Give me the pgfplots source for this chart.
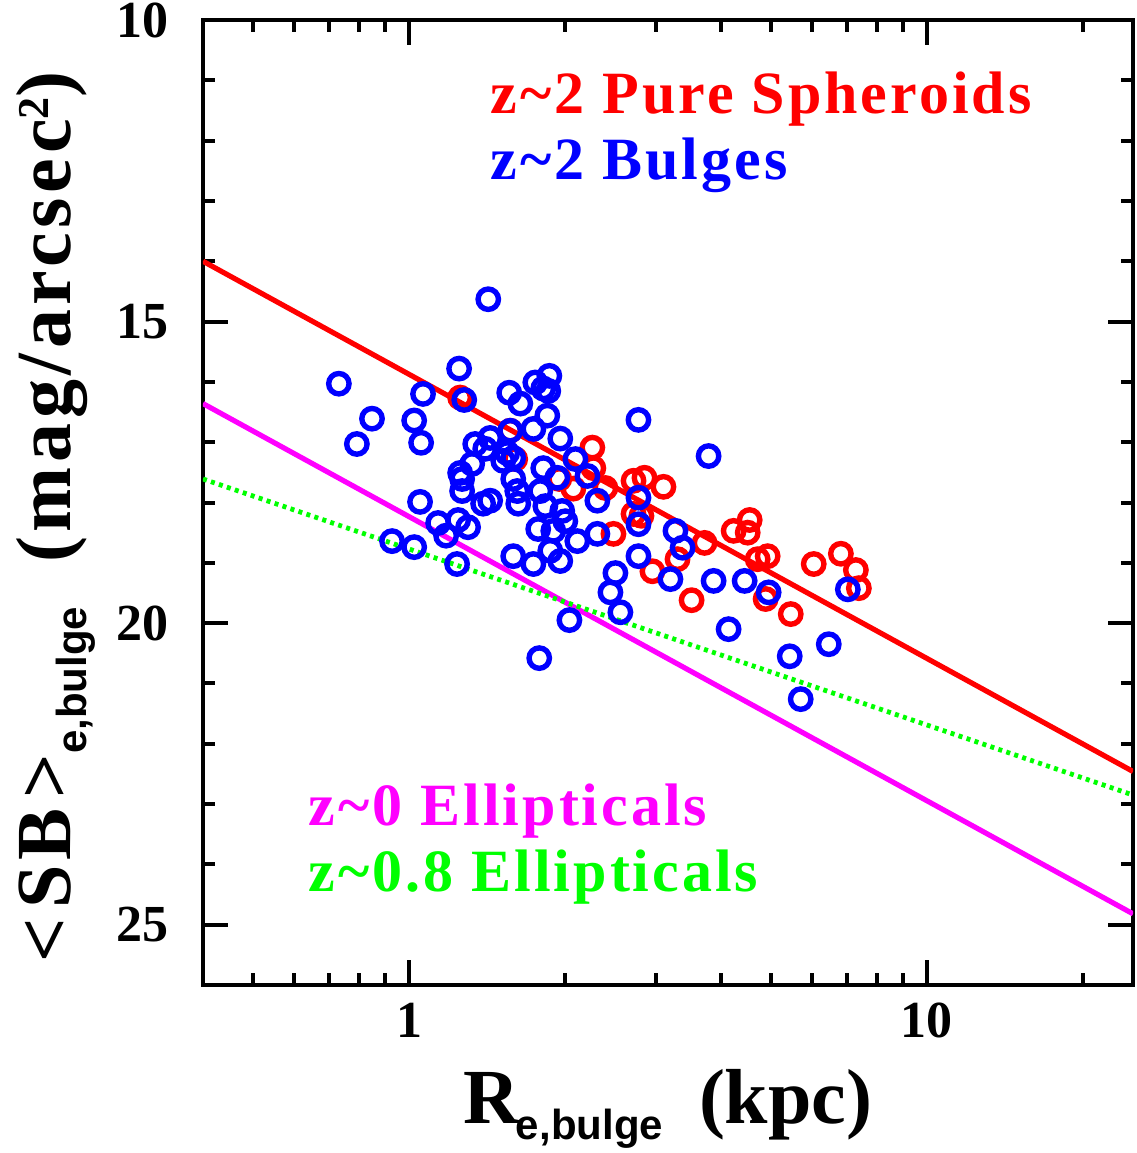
\documentclass[border=0pt]{standalone}
\usepackage{fontspec}
\setmainfont{Liberation Serif}
\setsansfont{Liberation Sans}
\newfontfamily\widefont{Liberation Serif}[LetterSpace=5]
\newfontfamily\labelfont{Liberation Serif}[LetterSpace=6]
\usepackage{pgfplots}
\usepackage{pgfplotstable}
\pgfplotsset{compat=1.18}

\definecolor{sphred}{rgb}{1,0,0}
\definecolor{bulgeblue}{rgb}{0,0,1}
\definecolor{ellmag}{rgb}{1,0,1}
\definecolor{ellgreen}{rgb}{0,1,0}

% effective radius (kpc) and mean surface brightness within R_e (mag/arcsec^2)
\pgfplotstableread{
r sb
1.255 16.26
1.568 16.81
1.603 17.28
1.950 17.61
2.076 17.77
2.259 17.09
2.269 17.43
2.394 17.76
2.713 17.64
2.848 17.59
3.099 17.74
2.713 18.19
2.810 18.22
2.481 18.52
2.951 19.14
3.299 18.94
3.512 19.62
3.721 18.67
4.234 18.47
4.547 18.29
4.507 18.50
4.711 18.94
4.925 18.89
4.881 19.60
5.458 19.85
6.045 19.02
6.820 18.85
7.291 19.12
7.389 19.42
}\spheroids

\pgfplotstableread{
r sb
1.422 14.63
0.732 16.03
1.249 15.78
1.064 16.20
1.278 16.30
0.848 16.61
1.023 16.64
0.793 17.03
1.055 17.01
1.561 16.18
1.640 16.36
1.753 16.01
1.816 16.11
1.866 15.90
1.857 16.15
1.849 16.56
1.738 16.78
1.568 16.81
1.434 16.93
1.342 17.03
1.403 17.11
1.959 16.94
1.547 17.18
1.589 17.26
1.520 17.31
1.816 17.43
2.095 17.28
2.210 17.56
1.324 17.36
1.255 17.51
1.266 17.61
1.266 17.81
1.390 18.02
1.434 17.97
1.589 17.61
1.618 17.81
1.625 18.02
1.792 17.81
1.933 17.59
1.833 18.06
1.976 18.14
2.003 18.31
1.776 18.44
1.899 18.47
2.113 18.64
2.310 18.52
2.310 17.97
2.773 17.92
2.773 18.36
2.773 18.89
2.773 16.63
1.050 17.99
0.927 18.64
1.023 18.74
1.238 19.02
1.138 18.34
1.179 18.55
1.244 18.29
1.300 18.41
1.589 18.89
1.738 19.02
1.874 18.80
1.959 18.97
2.040 19.95
1.784 20.58
2.503 19.17
2.448 19.49
2.559 19.82
3.269 18.47
3.374 18.75
3.197 19.27
3.788 17.23
3.873 19.30
4.446 19.30
4.947 19.49
4.140 20.10
5.433 20.55
6.463 20.35
5.705 21.26
7.035 19.44
}\bulges

\begin{document}
\begin{tikzpicture}
\useasboundingbox (-50.75pt,-42pt) rectangle (233.25pt,246.25pt);
\begin{axis}[
  scale only axis,
  width=232.5pt, height=241.25pt,
  xmode=log, xmin=0.4, xmax=25,
  ymin=10, ymax=26, y dir=reverse,
  xtick={1,10}, xticklabels={1,10},
  minor xtick={0.4,0.5,0.6,0.7,0.8,0.9,2,3,4,5,6,7,8,9,20},
  ytick={10,15,20,25}, yticklabels={10,15,20,25},
  minor ytick={11,12,13,14,16,17,18,19,21,22,23,24},
  tick align=inside,
  xtick pos=both, ytick pos=both,
  major tick length=6.25pt, minor tick length=3.1pt,
  every tick/.style={black, line width=1pt},
  axis line style={line width=1pt},
  ticklabel style={font=\bfseries\fontsize{13}{14}\selectfont},
  yticklabel style={xshift=-5pt},
  xticklabel style={yshift=-1pt},
  xlabel={R\hspace{-1pt}\raisebox{-4pt}{\fontsize{10.5}{12}\sffamily\bfseries e,bulge}\hspace{9pt}(kpc)},
  xlabel style={at={(axis description cs:0.5,-0.143)}, anchor=base,
    font=\bfseries\fontsize{19.5}{20}\selectfont},
  ylabel={\labelfont\bfseries\textless\hspace{2.5pt}SB\hspace{2.5pt}\textgreater\raisebox{-4pt}{\fontsize{10.5}{12}\sffamily\bfseries e,bulge}\hspace{11pt}(mag/arcsec\raisebox{5.5pt}{\fontsize{11}{11}\selectfont 2})},
  ylabel style={at={(axis description cs:-0.142,0.485)}, anchor=base,
    font=\bfseries\fontsize{19.5}{20}\selectfont},
]
\addplot[only marks, mark=o, mark size=2.55pt, sphred, mark options={line width=1.35pt}] table[x=r, y=sb] {\spheroids};
\addplot[only marks, mark=o, mark size=2.55pt, bulgeblue, mark options={line width=1.35pt}] table[x=r, y=sb] {\bulges};

\addplot[sphred, line width=1.3pt] coordinates {(0.4,14.00) (25,22.46)};
\addplot[ellmag, line width=1.3pt] coordinates {(0.4,16.36) (25,24.82)};
\addplot[ellgreen, line width=1.2pt, dash pattern=on 1pt off 1.1pt] coordinates {(0.4,17.61) (25,22.85)};

\node[anchor=base west, inner sep=0pt, text=sphred, font=\widefont\bfseries\fontsize{15}{16}\selectfont]
  at (axis description cs:0.3086,0.9036) {z\textasciitilde2 Pure Spheroids};
\node[anchor=base west, inner sep=0pt, text=bulgeblue, font=\widefont\bfseries\fontsize{15}{16}\selectfont]
  at (axis description cs:0.3086,0.8342) {z\textasciitilde2 Bulges};
\node[anchor=base west, inner sep=0pt, text=ellmag, font=\widefont\bfseries\fontsize{15}{16}\selectfont]
  at (axis description cs:0.1129,0.1658) {z\textasciitilde0 Ellipticals};
\node[anchor=base west, inner sep=0pt, text=ellgreen, font=\widefont\bfseries\fontsize{15}{16}\selectfont]
  at (axis description cs:0.1129,0.0964) {z\textasciitilde0.8 Ellipticals};
\end{axis}
\end{tikzpicture}
\end{document}
